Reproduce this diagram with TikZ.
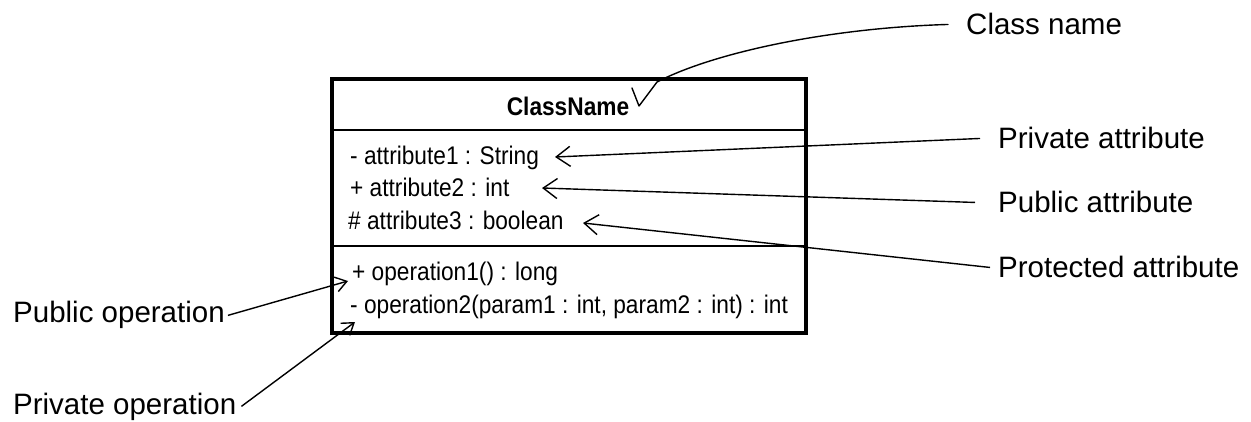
\documentclass[tikz,border=0pt]{standalone}
\usepackage{fontspec}
\setmainfont{Liberation Sans}
\newfontfamily\umlfont[FakeStretch=0.89]{Liberation Sans}
\usetikzlibrary{arrows.meta}
\begin{document}
\begin{tikzpicture}[x=1pt,y=-1pt,
  callout/.style={font=\fontsize{29.5}{34}\selectfont, inner sep=0pt, anchor=base west},
  member/.style={font=\umlfont\fontsize{25.5}{29}\selectfont, inner sep=0pt, anchor=base west},
  classbox/.style={draw, line width=3.5pt, minimum width=474pt, minimum height=254pt, inner sep=0pt},
  divider/.style={line width=2pt},
  leader/.style={line width=1.4pt},
  attrtip/.style={-{Straight Barb[length=14pt,width=20pt]}},
  optip/.style={-{Straight Barb[length=11pt,width=15pt]}}]
\useasboundingbox (0,0) rectangle (1251,422);
\fill[white] (0,0) rectangle (1251,422);

% class box with its three compartments
\node[classbox] (cls) at (569,206) {};
\draw[divider] (cls.west |- 0,130) -- (cls.east |- 0,130);
\draw[divider] (cls.west |- 0,246) -- (cls.east |- 0,246);

\node[member, font=\umlfont\bfseries\fontsize{25.5}{29}\selectfont, anchor=base] (cname) at (568,116) {ClassName};
\node[member] (a1) at (350,165) {- attribute1 : String};
\node[member] (a2) at (350,197) {+ attribute2 : int};
\node[member] (a3) at (348,230) {\# attribute3 : boolean};
\node[member] (o1) at (352,281) {+ operation1() : long};
\node[member] (o2) at (350,313) {- operation2(param1 : int, param2 : int) : int};

% callout labels
\node[callout] (lclass) at (966,35) {Class name};
\node[callout] (lpriv) at (998,149) {Private attribute};
\node[callout] (lpub) at (998,213) {Public attribute};
\node[callout] (lprot) at (998,278) {Protected attribute};
\node[callout] (lpubop) at (13,323) {Public operation};
\node[callout] (lprivop) at (13,414) {Private operation};

% arrow targets
\coordinate (tipA1) at (555,157);
\coordinate (tipA2) at (542,188);
\coordinate (tipA3) at (583,223);
\coordinate (tipO1) at (348,281);
\coordinate (tipO2) at (355,322);
\coordinate (kneeC) at (657,82);
\coordinate (tipC) at (639,106);
\coordinate (barbC) at (632,88);

% leaders
\draw[leader, line join=round, line cap=round] ([xshift=-18pt]lclass.west)
  .. controls (830,28) and (715,52) .. (kneeC) -- (tipC) -- (barbC);
\draw[leader, attrtip] ([xshift=-18pt]lpriv.west) -- (tipA1);
\draw[leader, attrtip] ([xshift=-23pt]lpub.west) -- (tipA2);
\draw[leader, attrtip] ([xshift=-8pt]lprot.west) -- (tipA3);
\draw[leader, optip] ([xshift=3pt]lpubop.east) -- (tipO1);
\draw[leader, optip] ([xshift=5pt]lprivop.east) -- (tipO2);
\end{tikzpicture}
\end{document}
